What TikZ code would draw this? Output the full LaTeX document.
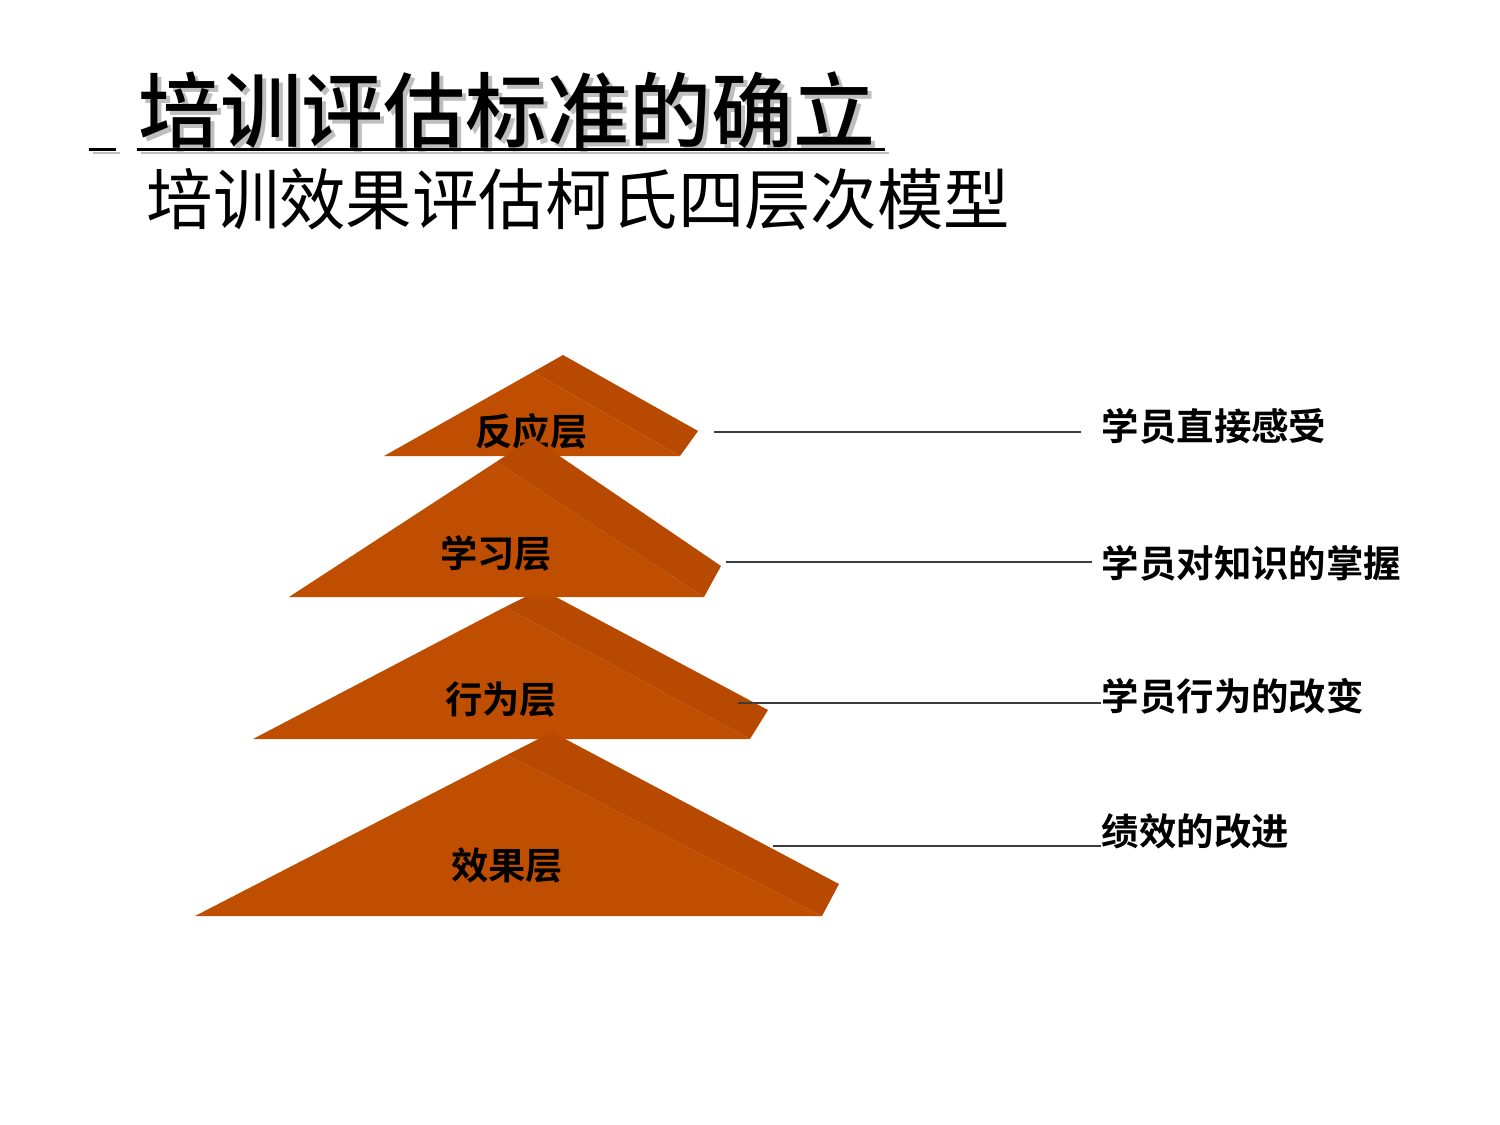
\documentclass[tikz,border=0pt]{standalone}
\usepackage{fontspec}
\newfontfamily\cjk{Noto Sans CJK SC}[BoldFont={Noto Sans CJK SC Bold}]
\newfontfamily\cjkmid{Noto Sans CJK SC Medium}
\definecolor{frontc}{RGB}{192,78,0}
\definecolor{sidec}{RGB}{183,73,0}
\definecolor{shadec}{RGB}{190,190,190}
\definecolor{leaderc}{RGB}{60,60,60}
\tikzset{
	frontface/.style={fill=frontc},
	sideface/.style={fill=sidec},
	layer/.style={font=\cjk\bfseries\fontsize{10.6}{12}\selectfont, anchor=base},
	effect/.style={font=\cjk\bfseries\fontsize{10.65}{12}\selectfont, anchor=base west},
	leader/.style={draw=leaderc, line width=0.45pt}
}

\begin{document}
\begin{tikzpicture}[x=0.1mm, y=-0.1mm, every node/.style={inner sep=0pt}]
		\useasboundingbox (0,0) rectangle (1500,1125);

		% title, with its grey shadow
		\node[anchor=base west, text=shadec, font=\cjkmid\fontsize{23.3}{26}\selectfont] (tshade) at (141.5,146) {培训评估标准的确立};
		\draw[shadec, line width=0.85pt] (93,153) -- (120,153) (141,153) -- (889,153);
		\node[anchor=base west, font=\cjkmid\fontsize{23.3}{26}\selectfont] (title) at (137.5,142) {培训评估标准的确立};
		\draw[line width=0.85pt] (89,149.5) -- (116,149.5) (137,149.5) -- (885,149.5);
		\node[anchor=base west, font=\cjk\fontsize{18.9}{22}\selectfont] (subtitle) at (146,224.5) {培训效果评估柯氏四层次模型};

		% pyramids, back to front
		\fill[frontface] (384,456) -- (533,372) -- (680,456) -- cycle;
		\fill[sideface] (533,372) -- (563,355) -- (698,431) -- (680,456) -- cycle;
		\node[layer] (p1) at (531.5,445) {反应层};

		\fill[frontface] (253,739) -- (505,607) -- (750,739) -- cycle;
		\fill[sideface] (505,607) -- (541,589) -- (768,710) -- (750,739) -- cycle;
		\node[layer] (p3) at (501,713) {行为层};

		\fill[frontface] (289,597) -- (496,462) -- (704,597) -- cycle;
		\fill[sideface] (496,462) -- (533,438) -- (721,566) -- (704,597) -- cycle;
		\node[layer] (p2) at (496,567) {学习层};

		\fill[frontface] (195,916) -- (507,755) -- (822,916) -- cycle;
		\fill[sideface] (507,755) -- (552,732) -- (839,884) -- (822,916) -- cycle;
		\node[layer] (p4) at (507,879) {效果层};

		% what each level measures
		\node[effect] (r1) at (1101,440) {学员直接感受};
		\node[effect] (r2) at (1101,577) {学员对知识的掌握};
		\node[effect] (r3) at (1101,710) {学员行为的改变};
		\node[effect] (r4) at (1101,845) {绩效的改进};

		\coordinate (e1) at (714,432);
		\coordinate (e2) at (726,562);
		\coordinate (e3) at (738,703);
		\coordinate (e4) at (773,846);

		\draw[leader, shorten >=2mm] (e1) -- (e1 -| r1.west);
		\draw[leader, shorten >=0.9mm] (e2) -- (e2 -| r2.west);
		\draw[leader] (e3) -- (e3 -| r3.west);
		\draw[leader] (e4) -- (e4 -| r4.west);
	\end{tikzpicture}
\end{document}
